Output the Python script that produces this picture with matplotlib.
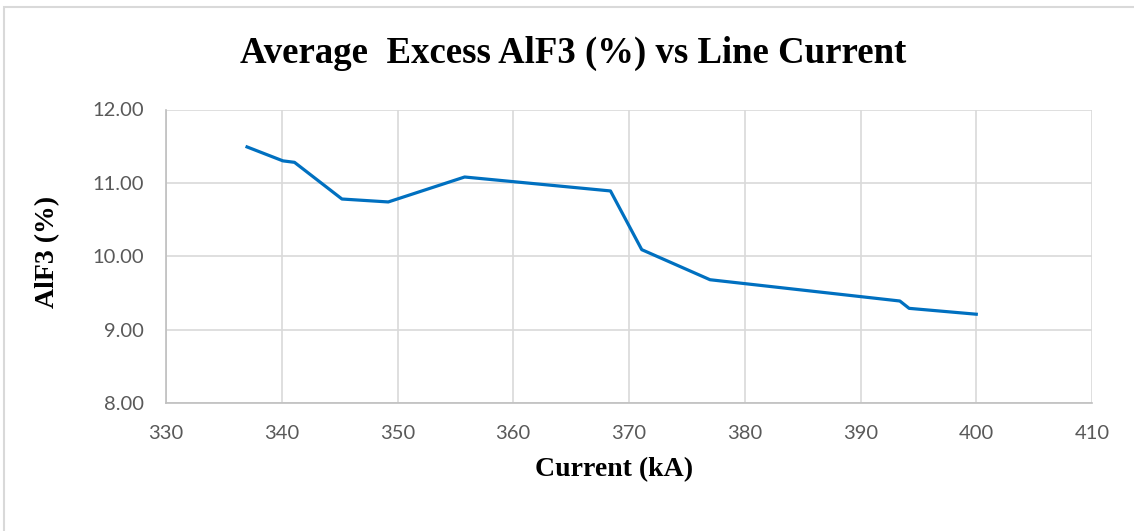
import matplotlib
matplotlib.use("Agg")
import matplotlib.pyplot as plt
from matplotlib.patches import Rectangle

# values
current_ka = [337.0, 340.1, 341.1, 345.2, 349.2, 355.8, 368.4, 371.1, 377.0, 393.4, 394.2, 400.0]
alf3_pct = [11.49, 11.30, 11.28, 10.78, 10.74, 11.08, 10.89, 10.09, 9.68, 9.39, 9.29, 9.21]
x_ticks = [330, 340, 350, 360, 370, 380, 390, 400, 410]
y_ticks = [8, 9, 10, 11, 12]

W, H = 1134, 531
fig = plt.figure(figsize=(W / 100, H / 100), dpi=100)
ax = fig.add_axes([166 / W, 1 - 403 / H, (1092 - 166) / W, (403 - 109.5) / H])

# outer chart frame (runs off the right and bottom edges)
fig.patches.append(Rectangle((4 / W, -0.05), 1.1, 1.05 - 7 / H, transform=fig.transFigure,
                             fill=False, edgecolor="#d9d9d9", linewidth=1.5))

ax.plot(current_ka, alf3_pct, color="#0070C0", linewidth=2.3, solid_joinstyle="round", zorder=3)

ax.set_xlim(330, 410)
ax.set_ylim(8, 12)
ax.set_xticks(x_ticks)
ax.set_yticks(y_ticks)
ax.set_yticklabels([f"{v:.2f}" for v in y_ticks])
ax.grid(True, color="#d9d9d9", linewidth=1.2)
ax.set_axisbelow(True)
for side in ["top", "right"]:
    ax.spines[side].set_visible(False)
for side in ["left", "bottom"]:
    ax.spines[side].set_color("#bfbfbf")
    ax.spines[side].set_linewidth(1.2)
ax.tick_params(length=0, labelsize=14.5, labelcolor="#595959", pad=16)
for lbl in ax.get_xticklabels() + ax.get_yticklabels():
    lbl.set_family("Lato")

fig.text(573 / W, 1 - 53 / H, "Average  Excess AlF3 (%) vs Line Current", ha="center", va="center",
         fontsize=26.5, fontweight="bold", family="Liberation Serif")
fig.text(614 / W, 1 - 470 / H, "Current (kA)", ha="center", va="center",
         fontsize=20, fontweight="bold", family="Liberation Serif")
fig.text(48 / W, 1 - 252 / H, "AlF3 (%)", ha="center", va="center", rotation=90,
         fontsize=20, fontweight="bold", family="Liberation Serif")

fig.savefig("out.png", dpi=100)
